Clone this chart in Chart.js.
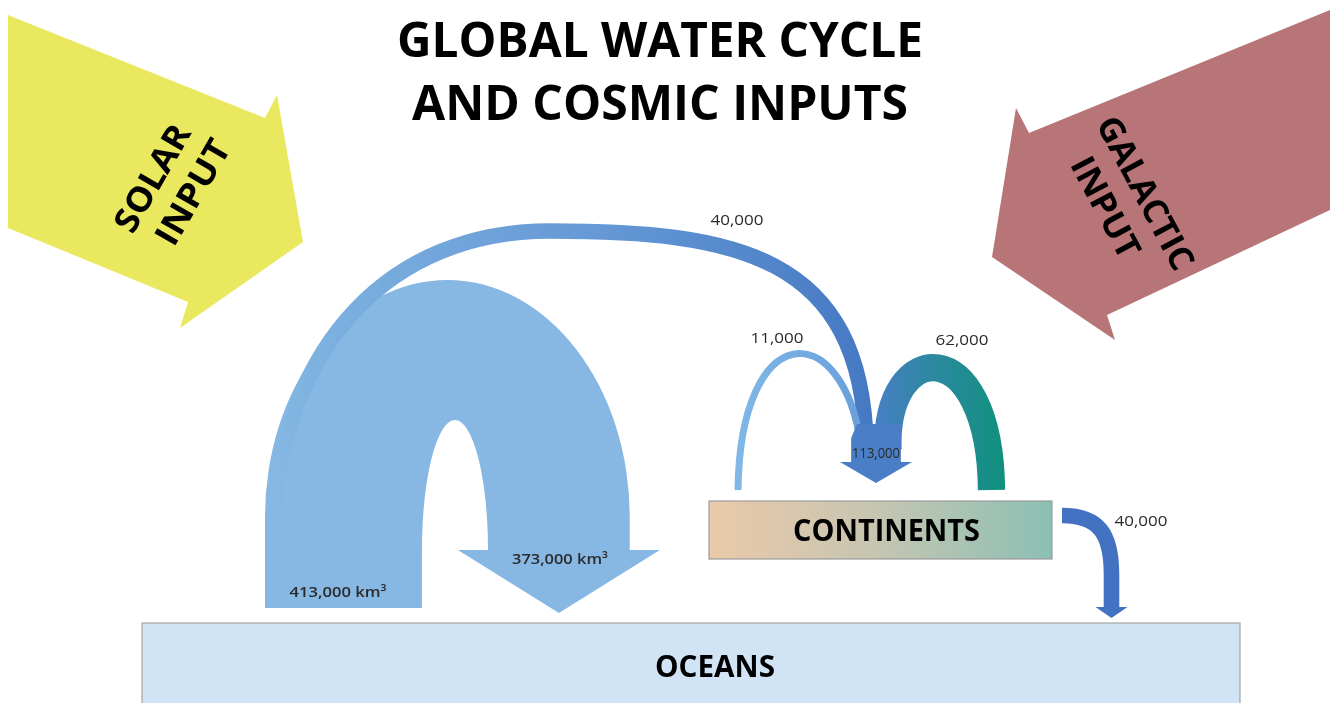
<!DOCTYPE html>
<html>
<head>
<meta charset="utf-8">
<title>Global water cycle and cosmic inputs</title>
<script src="https://cdn.jsdelivr.net/npm/chart.js@4.4.1/dist/chart.umd.min.js"></script>
<style>
  html, body { margin: 0; padding: 0; background: #fff; }
  #wrap { width: 1330px; height: 703px; }
</style>
</head>
<body>
<div id="wrap"><canvas id="cycle" width="1330" height="703"></canvas></div>
<script>
// values (km³ per year)
var titleLines = ['GLOBAL WATER CYCLE', 'AND COSMIC INPUTS'];
var inputLabels = [['SOLAR', 'INPUT'], ['GALACTIC', 'INPUT']];
var nodeLabels = ['CONTINENTS', 'OCEANS'];
var flowNames = ['ocean evaporation', 'ocean precipitation', 'vapour to land', 'land recycling', 'evapotranspiration', 'land precipitation', 'runoff'];
var flowValues = [413000, 373000, 40000, 11000, 62000, 113000, 40000];
var flowLabels = ['413,000 km³', '373,000 km³', '40,000', '11,000', '62,000', '113,000', '40,000'];

// drawing layout, in the 1330 x 703 frame of the axes
var L = {
  unit: [0.00038, 0.00038, 0.00039, 0.00044, 0.00044, 0.00044, 0.00039],
  minBand: 7,
  solar: [[8, 15], [265, 118], [277, 95], [303, 242], [180, 328], [188, 302], [8, 228]],
  galactic: [[1330, 10], [1029, 133], [1016, 108], [992, 257], [1115, 340], [1107, 315], [1330, 210]],
  arch: { leftX: 265, rightInnerX: 488, baseY: 608, topY: 280, shoulderY: 517, holeTopY: 420, holeY: 550, headY: 550, headHalf: 101, tipY: 613 },
  vapour: [[273, 520], [284, 345, 390, 231, 550, 231], [735, 231, 862, 255, 866, 445]],
  recycle: [[738, 490], [740, 318, 842, 315, 861, 445]],
  evap: [[888, 450], [884, 338, 990, 330, 991.5, 490]],
  shaft: { x: 876, topY: 424, flare: 14, inset: 6, headY: 462, headHalf: 36, tipY: 483 },
  runoff: { path: [[1062, 515.5], [1100, 515.5, 1111.5, 535, 1111.5, 575]], endY: 607, headHalf: 16, tipY: 618 },
  continents: [709, 501, 1052, 559],
  oceans: [142, 623, 1240, 712],
  title: [[660, 57, 526], [660, 120, 496]],
  solarText: { x: 172, y: 185, angle: -60, size: 34, lines: [[-4, -21, 118], [4, 21, 116]] },
  galacticText: { x: 1126, y: 200, angle: 62, size: 34, lines: [[3, -21, 169], [-3, 21, 110]] },
  nodeText: [[886.5, 541, 187], [715, 677, 120]],
  flowText: [[338, 597, 97, 15, '600'], [560, 564, 96, 15, '600'], [737, 225, 53, 15, '400'], [777, 343, 53, 15, '400'],
             [962, 345, 53, 15, '400'], [876, 458, 48, 14, '400'], [1141, 526, 53, 14, '400']]
};

var FONT = '"Open Sans", "DejaVu Sans", sans-serif';
var ARCH_BLUE = '#86B8E3';

var cyclePlugin = {
  id: 'waterCycle',
  afterDraw: function (chart) {
    var c = chart.ctx, sx = chart.scales.x, sy = chart.scales.y;
    function X(v) { return sx.getPixelForValue(v); }
    function Y(v) { return sy.getPixelForValue(v); }
    function dX(v) { return Math.abs(X(v) - X(0)); }
    function dY(v) { return Math.abs(Y(v) - Y(0)); }
    function bw(i) { return Math.max(flowValues[i] * L.unit[i], L.minBand); }

    function poly(pts, fill) {
      c.beginPath();
      pts.forEach(function (p, i) {
        if (i === 0) c.moveTo(X(p[0]), Y(p[1])); else c.lineTo(X(p[0]), Y(p[1]));
      });
      c.closePath();
      c.fillStyle = fill;
      c.fill();
    }
    function band(path, w, style) {
      c.beginPath();
      c.moveTo(X(path[0][0]), Y(path[0][1]));
      for (var i = 1; i < path.length; i++) {
        var s = path[i];
        c.bezierCurveTo(X(s[0]), Y(s[1]), X(s[2]), Y(s[3]), X(s[4]), Y(s[5]));
      }
      c.lineWidth = dX(w);
      c.lineCap = 'butt';
      c.strokeStyle = style;
      c.stroke();
    }
    function hgrad(x0, x1, stops) {
      var g = c.createLinearGradient(X(x0), 0, X(x1), 0);
      stops.forEach(function (s) { g.addColorStop(s[0], s[1]); });
      return g;
    }
    function text(str, x, y, w, font, color) {
      c.save();
      c.font = font;
      var m = c.measureText(str).width;
      c.translate(X(x), Y(y));
      c.scale(dX(w) / m, 1);
      c.fillStyle = color;
      c.textAlign = 'center';
      c.textBaseline = 'alphabetic';
      c.fillText(str, 0, 0);
      c.restore();
    }
    function rotatedText(lines, t) {
      c.save();
      c.translate(X(t.x), Y(t.y));
      c.rotate(t.angle * Math.PI / 180);
      c.font = 'bold ' + t.size + 'px ' + FONT;
      c.fillStyle = '#000';
      c.textAlign = 'center';
      c.textBaseline = 'alphabetic';
      lines.forEach(function (str, i) {
        var ln = t.lines[i], m = c.measureText(str).width;
        c.save();
        c.translate(ln[0], ln[1] + 0.357 * t.size);
        c.scale(ln[2] / m, 1);
        c.fillText(str, 0, 0);
        c.restore();
      });
      c.restore();
    }

    c.save();

    // cosmic inputs
    poly(L.solar, '#EAE85F');
    poly(L.galactic, '#B77577');
    rotatedText(inputLabels[0], L.solarText);
    rotatedText(inputLabels[1], L.galacticText);

    // title
    titleLines.forEach(function (s, i) {
      var t = L.title[i];
      text(s, t[0], t[1], t[2], 'bold 49px ' + FONT, '#000');
    });

    // reservoirs
    var o = L.oceans;
    c.fillStyle = '#D0E4F5';
    c.fillRect(X(o[0]), Y(o[1]), X(o[2]) - X(o[0]), Y(o[3]) - Y(o[1]));
    c.strokeStyle = '#A6A6A6';
    c.lineWidth = 1.2;
    c.strokeRect(X(o[0]), Y(o[1]), X(o[2]) - X(o[0]), Y(o[3]) - Y(o[1]));

    var k = L.continents;
    c.fillStyle = hgrad(k[0], k[2], [[0, '#EBC9AA'], [0.5, '#C5C5B1'], [1, '#8BC0B4']]);
    c.fillRect(X(k[0]), Y(k[1]), X(k[2]) - X(k[0]), Y(k[3]) - Y(k[1]));
    c.strokeStyle = '#9C9C9C';
    c.strokeRect(X(k[0]), Y(k[1]), X(k[2]) - X(k[0]), Y(k[3]) - Y(k[1]));

    // ocean evaporation / precipitation arch
    var a = L.arch;
    var lo = a.leftX, li = a.leftX + bw(0), ri = a.rightInnerX, ro = a.rightInnerX + bw(1);
    var cx = (lo + ro) / 2, rx = (ro - lo) / 2, ry = a.shoulderY - a.topY;
    var hx = (li + ri) / 2, hrx = (ri - li) / 2, hry = a.holeY - a.holeTopY;
    var hc = (ri + ro) / 2;
    c.beginPath();
    c.moveTo(X(lo), Y(a.baseY));
    c.lineTo(X(lo), Y(a.shoulderY));
    c.ellipse(X(cx), Y(a.shoulderY), dX(rx), dY(ry), 0, Math.PI, 2 * Math.PI);
    c.lineTo(X(ro), Y(a.headY));
    c.lineTo(X(hc + a.headHalf), Y(a.headY));
    c.lineTo(X(hc), Y(a.tipY));
    c.lineTo(X(hc - a.headHalf), Y(a.headY));
    c.lineTo(X(ri), Y(a.headY));
    c.ellipse(X(hx), Y(a.holeY), dX(hrx), dY(hry), 0, 0, Math.PI, true);
    c.lineTo(X(li), Y(a.baseY));
    c.closePath();
    c.fillStyle = ARCH_BLUE;
    c.fill();

    // vapour carried to the land
    band(L.vapour, bw(2), hgrad(270, 870, [[0, ARCH_BLUE], [0.08, '#7CB1E0'], [0.55, '#6598D5'], [1, '#4679C3']]));
    // recycling over land and evapotranspiration
    band(L.recycle, bw(3), hgrad(735, 862, [[0, '#80B8E7'], [1, '#6A9FDA']]));
    band(L.evap, bw(4), hgrad(880, 1000, [[0, '#4580C2'], [0.45, '#2C889F'], [1, '#11907F']]));

    // precipitation on land (top tucked in under the incoming bands)
    var s = L.shaft, hw = bw(5) / 2;
    poly([[s.x - hw + s.inset, s.topY], [s.x + hw, s.topY], [s.x + hw, s.headY], [s.x + s.headHalf, s.headY],
          [s.x, s.tipY], [s.x - s.headHalf, s.headY], [s.x - hw, s.headY], [s.x - hw, s.topY + s.flare]], '#4A7EC6');

    // runoff back to the oceans
    var r = L.runoff, end = r.path[r.path.length - 1];
    band(r.path, bw(6), '#4472C2');
    c.beginPath();
    c.moveTo(X(end[4]), Y(end[5]));
    c.lineTo(X(end[4]), Y(r.endY + 0.5));
    c.lineWidth = dX(bw(6));
    c.strokeStyle = '#4472C2';
    c.stroke();
    poly([[end[4] - r.headHalf, r.endY], [end[4] + r.headHalf, r.endY], [end[4], r.tipY]], '#4472C2');

    // texts
    nodeLabels.forEach(function (n, i) {
      var t = L.nodeText[i];
      text(n, t[0], t[1], t[2], 'bold 31px ' + FONT, '#000');
    });
    flowLabels.forEach(function (f, i) {
      var t = L.flowText[i];
      text(f, t[0], t[1], t[2], t[4] + ' ' + t[3] + 'px ' + FONT, '#2B2B2B');
    });

    c.restore();
  }
};

var ctx = document.getElementById('cycle').getContext('2d');
var cycleChart = new Chart(ctx, {
  type: 'scatter',
  data: {
    datasets: [{
      label: 'flows',
      data: [],
      pointRadius: 0
    }]
  },
  options: {
    responsive: false,
    animation: false,
    layout: { padding: 0 },
    plugins: {
      legend: { display: false },
      tooltip: { enabled: false },
      title: { display: false }
    },
    scales: {
      x: { type: 'linear', min: 0, max: 1330, display: false },
      y: { type: 'linear', min: 0, max: 703, reverse: true, display: false }
    }
  },
  plugins: [cyclePlugin]
});
</script>
</body>
</html>
